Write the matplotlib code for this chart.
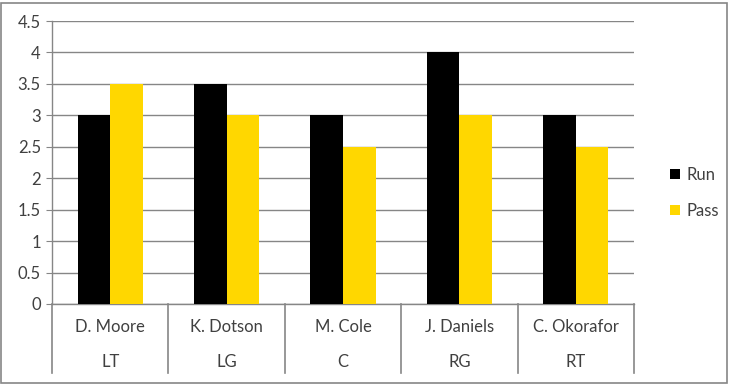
import matplotlib
matplotlib.use("Agg")
import matplotlib.pyplot as plt
from matplotlib.patches import Rectangle
import numpy as np

names = ["D. Moore", "K. Dotson", "M. Cole", "J. Daniels", "C. Okorafor"]
positions = ["LT", "LG", "C", "RG", "RT"]
run = [3, 3.5, 3, 4, 3]
pass_ = [3.5, 3, 2.5, 3, 2.5]
yticks = [0, 0.5, 1, 1.5, 2, 2.5, 3, 3.5, 4, 4.5]
ytick_labels = ["0", "0.5", "1", "1.5", "2", "2.5", "3", "3.5", "4", "4.5"]

plt.rcParams['font.family'] = ['Lato', 'DejaVu Sans']
GRAY = "#868686"
TXT = "#404040"
FS = 12

fig = plt.figure(figsize=(7.3, 3.85), dpi=100)
ax = fig.add_axes([52/730, 1-304/385, (634-52)/730, (304-21)/385])

x = np.arange(len(names))
w = 0.28
ax.bar(x - w/2, run, width=w, color="#000000", label="Run", zorder=3)
ax.bar(x + w/2, pass_, width=w, color="#FFD700", label="Pass", zorder=3)

ax.set_xlim(-0.5, len(names) - 0.5)
ax.set_ylim(0, 4.5)
ax.set_yticks(yticks)
ax.set_yticklabels(ytick_labels, fontsize=FS, color=TXT)
ax.yaxis.grid(True, color=GRAY, linewidth=1)
ax.set_axisbelow(True)
ax.tick_params(axis='y', length=4, color=GRAY, pad=4)
ax.set_xticks([])
for s in ["top", "right"]:
    ax.spines[s].set_visible(False)
for s in ["left", "bottom"]:
    ax.spines[s].set_color(GRAY)
    ax.spines[s].set_linewidth(1)

trans = ax.get_xaxis_transform()
for b in np.arange(-0.5, len(names), 1.0):
    ax.plot([b, b], [0, -0.244], transform=trans, color=GRAY, lw=1.2, clip_on=False)
for i in range(len(names)):
    ax.text(i, -0.08, names[i], transform=trans, ha='center', va='center', fontsize=FS, color=TXT)
    ax.text(i, -0.205, positions[i], transform=trans, ha='center', va='center', fontsize=FS, color=TXT)

fig.legend(loc='center left', bbox_to_anchor=(655/730, 1-193/385), frameon=False,
           handlelength=0.6, handleheight=0.6, handletextpad=0.4, labelspacing=1.2,
           fontsize=FS, labelcolor=TXT)

fig.patches.append(Rectangle((1/730, 2/385), 726/730, 380/385, transform=fig.transFigure,
                             fill=False, edgecolor=GRAY, linewidth=1.2))

fig.savefig("out.png", dpi=100)
